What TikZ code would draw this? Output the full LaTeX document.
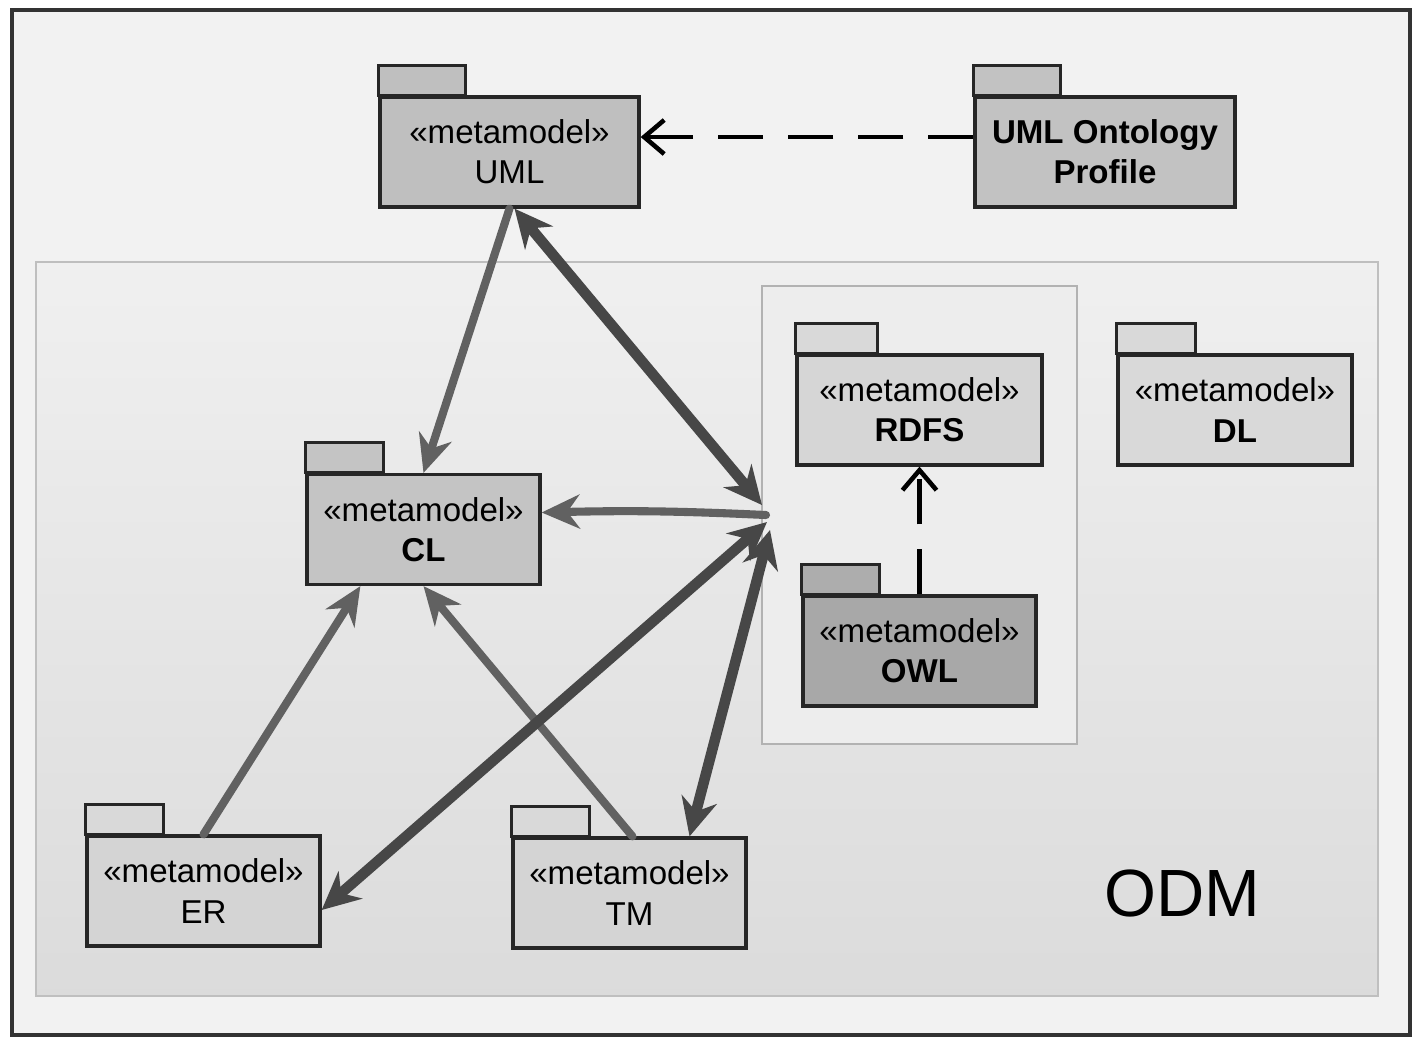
\documentclass[tikz,border=0pt]{standalone}
\usepackage{fontspec}
\setmainfont{Liberation Sans}
\usetikzlibrary{arrows.meta}

\tikzset{
  pkg/.style={draw=black!85, line width=0.9pt, minimum height=1.1cm, inner sep=0pt,
    align=center, font=\fontsize{9.4}{11.4}\selectfont},
  dep/.style={black, line width=1.3pt, dash pattern=on 0.45cm off 0.25cm,
    -{Straight Barb[length=2mm,width=3.4mm]}},
  assoc/.style={draw=black!62, line width=2.3pt, line cap=round,
    -{Stealth[length=3.8mm,width=3.4mm]}},
  link/.style={draw=black!72, line width=3pt,
    {Stealth[length=3.8mm,width=3.6mm]}-{Stealth[length=3.8mm,width=3.6mm]}},
}

\begin{document}
\begin{tikzpicture}[x=0.01cm,y=-0.01cm]
\useasboundingbox (0,0) rectangle (1426,1050);
% frames
\draw[black!80, line width=1.2pt, fill=black!5] (12,10) rectangle (1410,1035);
\draw[black!25, line width=0.8pt, top color=black!6, bottom color=black!14] (36,262) rectangle (1378,996);
\draw[black!30, line width=0.8pt, fill=black!7] (762,286) rectangle (1077,744);
\node[font=\fontsize{19}{19}\selectfont] (odm) at (1182,893) {ODM};

% packages
\node[pkg, fill=black!25, minimum width=2.59cm] (UML) at (509.5,152) {«metamodel»\\UML};
\node[pkg, fill=black!24, minimum width=2.60cm, font=\fontsize{9.4}{11.4}\selectfont\bfseries] (Profile) at (1105,152) {UML Ontology\\Profile};
\node[pkg, fill=black!23, minimum width=2.33cm] (CL) at (423.5,529.5) {«metamodel»\\\textbf{CL}};
\node[pkg, fill=black!16, minimum width=2.45cm] (RDFS) at (919.5,410) {«metamodel»\\\textbf{RDFS}};
\node[pkg, fill=black!15, minimum width=2.34cm] (DL) at (1235,410) {«metamodel»\\\textbf{DL}};
\node[pkg, fill=black!34, minimum width=2.33cm] (OWL) at (919.5,651) {«metamodel»\\\textbf{OWL}};
\node[pkg, fill=black!17, minimum width=2.33cm] (ER) at (203.5,891) {«metamodel»\\ER};
\node[pkg, fill=black!17, minimum width=2.33cm] (TM) at (629.5,893) {«metamodel»\\TM};

% tabs
\foreach \n/\w/\c in {UML/87/25, Profile/87/24, CL/78/23, RDFS/82/15,
    DL/79/15, OWL/78/32, ER/78/15, TM/78/15}
  \draw[draw=black!85, line width=0.9pt, fill=black!\c] (\n.north west) rectangle ++(\w,-30);

% meeting point on the left of the RDFS/OWL frame
\coordinate (hubU) at (762,505);
\coordinate (hubC) at (766,515);
\coordinate (hubE) at (767,522);
\coordinate (hubT) at (770,530);

% connectors
\draw[assoc] (UML.south) -- (CL.north);
\draw[assoc] (ER.north) -- ([xshift=0.55cm]CL.south west);
\draw[assoc] ([xshift=0.03cm]TM.north) -- (CL.south);
\draw[assoc] (hubC) to[bend right=2] ([yshift=0.17cm]CL.east);
\draw[link] ([xshift=0.05cm]UML.south) -- (hubU);
\draw[link] ([yshift=-0.19cm]ER.east) -- (hubE);
\draw[link] ([xshift=0.6cm]TM.north) -- (hubT);
\draw[dep] ([yshift=0.15cm]Profile.west) -- ([yshift=0.15cm]UML.east);
\draw[dep] (OWL.north) -- (RDFS.south);
\end{tikzpicture}
\end{document}
